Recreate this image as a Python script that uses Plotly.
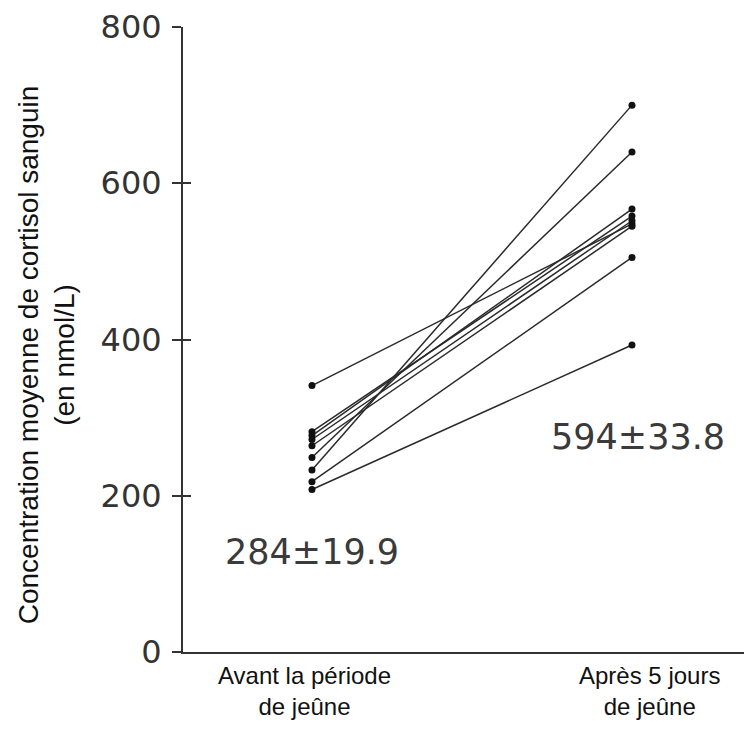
import plotly.graph_objects as go

# Data
conditions = [0, 1]
before = [341, 282, 277, 272, 264, 249, 233, 218, 208]
after = [548, 558, 567, 552, 545, 640, 700, 505, 393]
cat_label_x = [-0.022, 1.056]
cat_labels = ["Avant la période<br>de jeûne", "Après 5 jours<br>de jeûne"]
y_ticks = [0, 200, 400, 600, 800]
mean_labels = ["284±19.9", "594±33.8"]
mean_label_x = [0.0, 1.02]
mean_label_y = [128, 275]

fig = go.Figure()
for b, a in zip(before, after):
    fig.add_trace(go.Scatter(
        x=conditions, y=[b, a], mode="lines+markers",
        line=dict(color="#2a2a2a", width=1.5),
        marker=dict(color="#111111", size=7),
        showlegend=False, hoverinfo="skip"))

for t, x, y in zip(mean_labels, mean_label_x, mean_label_y):
    fig.add_annotation(x=x, y=y, text=t, showarrow=False,
                       xanchor="center", yanchor="middle",
                       font=dict(family="DejaVu Sans", size=35, color="#3a3a3a"))

cat_font = dict(family="Liberation Sans", size=24, color="#111111")
for x, lab in zip(cat_label_x, cat_labels):
    fig.add_annotation(x=x, xref="x", yref="paper", y=-0.112, text=lab,
                       showarrow=False, xanchor="center", yanchor="bottom",
                       font=cat_font)

fig.add_annotation(xref="paper", yref="paper", x=-0.244, y=0.475,
                   text="Concentration moyenne de cortisol sanguin<br>(en nmol/L)",
                   textangle=-90, showarrow=False, xanchor="center", yanchor="middle",
                   font=dict(family="Liberation Sans", size=28, color="#111111"))

fig.update_layout(
    width=736, height=715,
    margin=dict(l=175, r=0, t=19, b=71),
    paper_bgcolor="white", plot_bgcolor="white",
    xaxis=dict(range=[-0.403, 1.35], showticklabels=False,
               showgrid=False, zeroline=False, showline=True, linecolor="#333333",
               linewidth=2, ticks=""),
    yaxis=dict(range=[0, 800], tickvals=y_ticks, showgrid=False, zeroline=False,
               showline=True, linecolor="#333333", linewidth=2,
               ticks="outside", ticklen=9, tickwidth=2, tickcolor="#333333",
               ticklabelstandoff=4,
               tickfont=dict(family="DejaVu Sans", size=32, color="#333333")),
    yaxis2=dict(range=[0, 800], tickvals=y_ticks, overlaying="y", side="left",
                showgrid=False, zeroline=False, showline=False,
                ticks="inside", ticklen=8, tickwidth=2, tickcolor="#333333",
                showticklabels=False),
)
fig.add_trace(go.Scatter(x=[None], y=[None], yaxis="y2", showlegend=False))

fig.write_html("out.html")
